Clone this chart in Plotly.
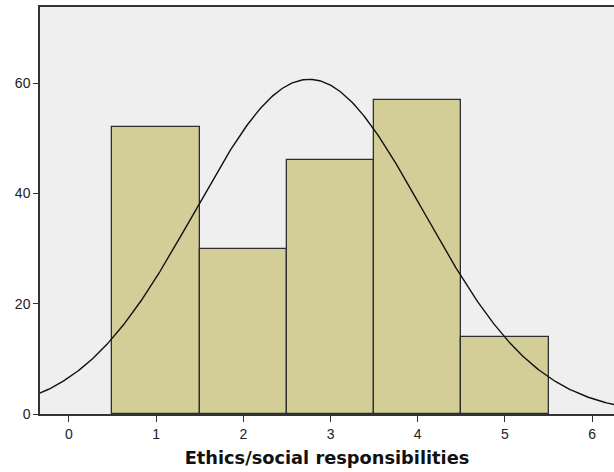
import numpy as np
import plotly.graph_objects as go

categories = [1, 2, 3, 4, 5]
counts = [52, 30, 46, 57, 14]
x_ticks = [0, 1, 2, 3, 4, 5, 6]
y_ticks = [0, 20, 40, 60]
x_title = "Ethics/social responsibilities"

# Fitted normal curve from the histogram data
cats = np.array(categories, dtype=float)
cnt = np.array(counts, dtype=float)
n = cnt.sum()
mean = (cats * cnt).sum() / n
sd = np.sqrt(((cats - mean) ** 2 * cnt).sum() / (n - 1))
xs = np.linspace(-0.4, 6.3, 400)
ys = n * 1.0 / (sd * np.sqrt(2 * np.pi)) * np.exp(-0.5 * ((xs - mean) / sd) ** 2)

fig = go.Figure()
fig.add_trace(go.Bar(
    x=categories, y=counts, width=1.0,
    marker=dict(color="#D3CE97", line=dict(color="#2e2e2e", width=1.3)),
    showlegend=False, hoverinfo="skip",
))
fig.add_trace(go.Scatter(
    x=xs, y=ys, mode="lines",
    line=dict(color="#111111", width=1.4),
    showlegend=False, hoverinfo="skip",
))

fig.update_layout(
    width=614, height=472,
    margin=dict(l=40, r=0, t=7, b=58),
    paper_bgcolor="white", plot_bgcolor="#EFEFEF",
    bargap=0,
    font=dict(family="Liberation Sans, Arial, sans-serif", color="#222222", size=14),
)
fig.update_xaxes(
    range=[-0.331, 6.25], tickvals=x_ticks, ticktext=[str(v) for v in x_ticks],
    showgrid=False, zeroline=False,
    showline=True, linecolor="#333333", linewidth=1.5, mirror=True,
    ticks="outside", ticklen=6, tickwidth=1.3, tickcolor="#333333",
    tickfont=dict(size=14, color="#222222"),
    title=dict(text="<b>" + x_title + "</b>",
               font=dict(family="DejaVu Sans, sans-serif", size=17.8, color="#111111"),
               standoff=11),
)
fig.update_yaxes(
    range=[0, 73.8], tickvals=y_ticks,
    showgrid=False, zeroline=False,
    showline=True, linecolor="#333333", linewidth=1.5, mirror=False,
    ticks="outside", ticklen=5, tickwidth=1.3, tickcolor="#333333",
    tickfont=dict(size=14, color="#222222"),
)

fig.write_html("out.html")
